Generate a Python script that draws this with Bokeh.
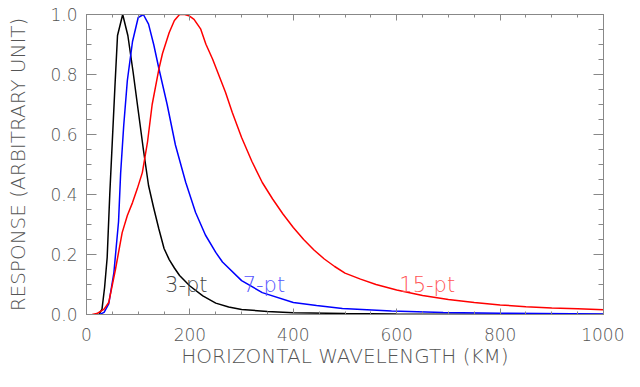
from bokeh.plotting import figure
from bokeh.models import (SingleIntervalTicker, PrintfTickFormatter, LinearAxis, Range1d,
                          ColumnDataSource, CustomJSTickFormatter)
from bokeh.core.properties import value
from bokeh.embed import file_html
from bokeh.resources import INLINE

# ---- data ----
black_x = [24, 30, 35, 40, 45, 50, 55, 60, 70, 80, 90, 100, 110, 120, 130, 140, 150, 160, 170, 180,
           200, 225, 250, 275, 300, 350, 400, 500, 600, 800, 1000]
black_y = [0.0, 0.018, 0.09, 0.19, 0.40, 0.58, 0.76, 0.93, 1.0, 0.93, 0.81, 0.68, 0.55, 0.43, 0.355,
           0.285, 0.22, 0.183, 0.155, 0.13, 0.095, 0.062, 0.038, 0.025, 0.017, 0.01, 0.006, 0.003,
           0.0015, 0.0005, 0.0]

blue_x = [25, 34, 43, 53, 62, 66, 72, 79, 89, 100, 110, 120, 130, 140, 156, 172, 192, 211, 230, 250,
          263, 300, 340, 400, 445, 495, 590, 690, 800, 1000]
blue_y = [0.0, 0.007, 0.035, 0.14, 0.31, 0.47, 0.63, 0.78, 0.91, 0.99, 1.0, 0.968, 0.9, 0.82, 0.7,
          0.565, 0.44, 0.34, 0.265, 0.207, 0.175, 0.113, 0.073, 0.04, 0.03, 0.02, 0.012, 0.007,
          0.004, 0.002]

red_x = [11, 20, 34, 43, 56, 69, 79, 89, 98, 108, 118, 127, 140, 147, 160, 170, 180, 190, 198, 208,
         221, 231, 244, 269, 282, 300, 320, 340, 360, 380, 400, 420, 440, 460, 480, 500, 530, 560,
         600, 650, 700, 750, 800, 850, 900, 950, 1000]
red_y = [0.0, 0.003, 0.018, 0.04, 0.15, 0.273, 0.33, 0.373, 0.418, 0.473, 0.575, 0.70, 0.818, 0.87,
         0.94, 0.98, 1.0, 1.0, 0.996, 0.984, 0.951, 0.901, 0.851, 0.74, 0.673, 0.59, 0.51, 0.44,
         0.385, 0.335, 0.29, 0.25, 0.215, 0.185, 0.16, 0.138, 0.118, 0.1, 0.082, 0.063, 0.05, 0.04,
         0.032, 0.026, 0.022, 0.019, 0.016]

label_text = ["3-pt", "7-pt", "15-pt"]
label_x = [152, 302, 605]
label_y = [0.1, 0.1, 0.1]
label_color = ["#444444", "#5555ff", "#ff5555"]

x_label = "HORIZONTAL WAVELENGTH (KM)"
y_label = "RESPONSE (ARBITRARY UNIT)"

FONT = "'DejaVu Sans Light', 'DejaVu Sans'"
AXIS_COLOR = "#888888"
TEXT_COLOR = "#555555"

p = figure(width=624, height=371, output_backend="svg", toolbar_location=None,
           x_range=Range1d(0, 1000), y_range=Range1d(0, 1.0),
           min_border_left=86, min_border_right=21, min_border_top=14, min_border_bottom=57)
p.background_fill_color = "white"
p.border_fill_color = "white"
p.outline_line_color = AXIS_COLOR
p.grid.visible = False

p.line(black_x, black_y, line_color="black", line_width=1.5)
p.line(blue_x, blue_y, line_color="#0000ff", line_width=1.5)
p.line(red_x, red_y, line_color="#ff0000", line_width=1.5)

src = ColumnDataSource(dict(x=label_x, y=label_y, t=label_text, c=label_color))
p.text(x="x", y="y", text="t", text_color="c", source=src, text_font=value(FONT),
       text_font_size="21px", text_baseline="alphabetic", text_align="left")

p.xaxis.ticker = SingleIntervalTicker(interval=200, num_minor_ticks=4)
p.yaxis.ticker = SingleIntervalTicker(interval=0.2, num_minor_ticks=4)
p.yaxis.formatter = PrintfTickFormatter(format="%.1f")

for ax in (p.xaxis[0], p.yaxis[0]):
    ax.axis_line_color = AXIS_COLOR
    ax.major_tick_line_color = AXIS_COLOR
    ax.minor_tick_line_color = AXIS_COLOR
    ax.major_tick_out = 0
    ax.minor_tick_out = 0
    ax.major_label_text_font = FONT
    ax.major_label_text_font_size = "17px"
    ax.major_label_text_color = TEXT_COLOR
    ax.axis_label_text_font = FONT
    ax.axis_label_text_font_size = "20px"
    ax.axis_label_text_font_style = "normal"
    ax.axis_label_text_color = TEXT_COLOR

p.xaxis.axis_label = x_label
p.yaxis.axis_label = y_label
p.xaxis.major_tick_in = 6
p.xaxis.minor_tick_in = 3
p.xaxis.major_label_standoff = 13
p.xaxis.axis_label_standoff = 0
p.yaxis.major_tick_in = 10
p.yaxis.minor_tick_in = 5
p.yaxis.major_label_standoff = 9
p.yaxis.axis_label_standoff = 17

blank = CustomJSTickFormatter(code="return ''")
top = LinearAxis(ticker=SingleIntervalTicker(interval=200, num_minor_ticks=4), formatter=blank)
right = LinearAxis(ticker=SingleIntervalTicker(interval=0.2, num_minor_ticks=4), formatter=blank)
for ax, tin, min_in in ((top, 6, 3), (right, 10, 5)):
    ax.axis_line_color = AXIS_COLOR
    ax.major_tick_line_color = AXIS_COLOR
    ax.minor_tick_line_color = AXIS_COLOR
    ax.major_tick_out = 0
    ax.minor_tick_out = 0
    ax.major_tick_in = tin
    ax.minor_tick_in = min_in
    ax.major_label_standoff = 0
p.add_layout(top, "above")
p.add_layout(right, "right")

open("out.html", "w").write(file_html(p, INLINE))
